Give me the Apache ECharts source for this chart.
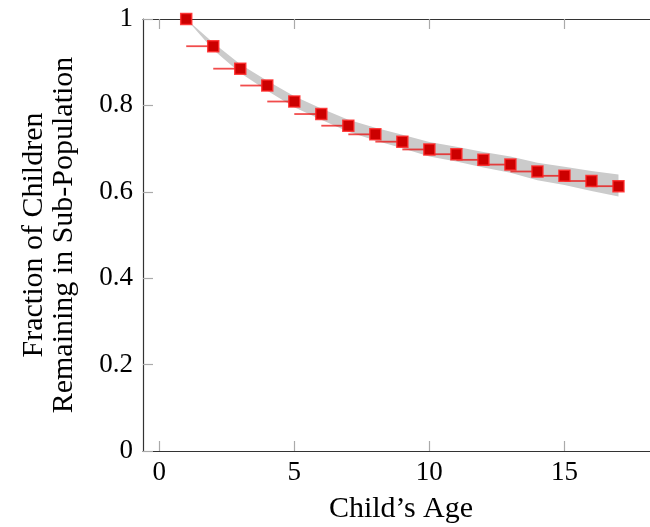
<!DOCTYPE html>
<html>
<head>
<meta charset="utf-8">
<script src="https://cdn.jsdelivr.net/npm/echarts@6/dist/echarts.min.js"></script>
<style>
html,body{margin:0;padding:0;background:#fff;}
#c{width:650px;height:527px;}
</style>
</head>
<body>
<div id="c"></div>
<script>
var ages = [1,2,3,4,5,6,7,8,9,10,11,12,13,14,15,16,17];
var survival = [1.000,0.937,0.885,0.846,0.809,0.780,0.753,0.733,0.716,0.698,0.687,0.674,0.663,0.647,0.637,0.625,0.613];
var bandLower = [1.000,0.929,0.875,0.834,0.796,0.767,0.739,0.719,0.701,0.682,0.670,0.656,0.644,0.627,0.616,0.602,0.589];
var bandUpper = [1.000,0.945,0.895,0.857,0.821,0.793,0.767,0.748,0.732,0.715,0.704,0.692,0.682,0.667,0.658,0.648,0.640];
var xTicks = [0,5,10,15];
var yTicks = [0,0.2,0.4,0.6,0.8,1];

var FONT = 'Liberation Serif';
var tickColor = '#aaaaaa';
var lineColor = '#333333';

var points = ages.map(function(a,i){return [a, survival[i]];});
var steps = ages.slice(1).map(function(a,i){return [a-1, a, survival[i+1]];});

var chart = echarts.init(document.getElementById('c'), null, {renderer:'canvas'});

function xAxisDef(pos, show){
  return {
    type:'value', position:pos, min:-0.6, max:18.5,
    axisLine:{show:true, onZero:false, lineStyle:{color:lineColor, width:1.2}},
    axisTick:{show:true, inside:true, length:10, lineStyle:{color:tickColor, width:1.2}, customValues:xTicks},
    axisLabel:{show:show, customValues:xTicks, fontFamily:FONT, fontSize:27, color:'#000', margin:8},
    splitLine:{show:false},
    name: show ? "Child\u2019s Age" : '',
    nameLocation:'middle', nameGap:43,
    nameTextStyle:{fontFamily:FONT, fontSize:30, color:'#000'}
  };
}

chart.setOption({
  animation:false,
  grid:{left:143, top:19, right:-9, bottom:76, containLabel:false, outerBoundsMode:'none'},
  xAxis:[xAxisDef('bottom', true), xAxisDef('top', false)],
  yAxis:[{
    type:'value', position:'left', min:0, max:1,
    axisLine:{show:true, onZero:false, lineStyle:{color:lineColor, width:1.2}},
    axisTick:{show:true, inside:true, length:10, lineStyle:{color:tickColor, width:1.2}, customValues:yTicks},
    axisLabel:{show:true, customValues:yTicks, fontFamily:FONT, fontSize:27, color:'#000', margin:10,
      formatter:function(v){return String(Math.round(v*10)/10);}},
    splitLine:{show:false},
    name:'Fraction of Children\nRemaining in Sub-Population',
    nameLocation:'middle', nameGap:64, nameRotate:90,
    nameTextStyle:{fontFamily:FONT, fontSize:30, color:'#000', lineHeight:30}
  }],
  series:[
    {
      type:'custom', xAxisIndex:0, yAxisIndex:0, z:1,
      data:[0],
      renderItem:function(params, api){
        var pts = [];
        for (var i=0;i<ages.length;i++) pts.push(api.coord([ages[i], bandUpper[i]]));
        for (var j=ages.length-1;j>=0;j--) pts.push(api.coord([ages[j], bandLower[j]]));
        return {type:'polygon', shape:{points:pts}, style:{fill:'#cbcbcb', stroke:null}};
      }
    },
    {
      type:'custom', xAxisIndex:0, yAxisIndex:0, z:2,
      data:steps,
      renderItem:function(params, api){
        var p1 = api.coord([api.value(0), api.value(2)]);
        var p2 = api.coord([api.value(1), api.value(2)]);
        return {type:'line', shape:{x1:p1[0], y1:p1[1], x2:p2[0], y2:p2[1]},
          style:{stroke:'rgba(235,0,0,0.7)', lineWidth:1.8}};
      }
    },
    {
      type:'scatter', xAxisIndex:0, yAxisIndex:0, z:3, clip:false,
      symbol:'rect', symbolSize:11,
      data:points,
      itemStyle:{color:'#cc0000', borderColor:'rgba(255,40,40,0.85)', borderWidth:1.5, opacity:1}
    }
  ]
});
</script>
</body>
</html>
